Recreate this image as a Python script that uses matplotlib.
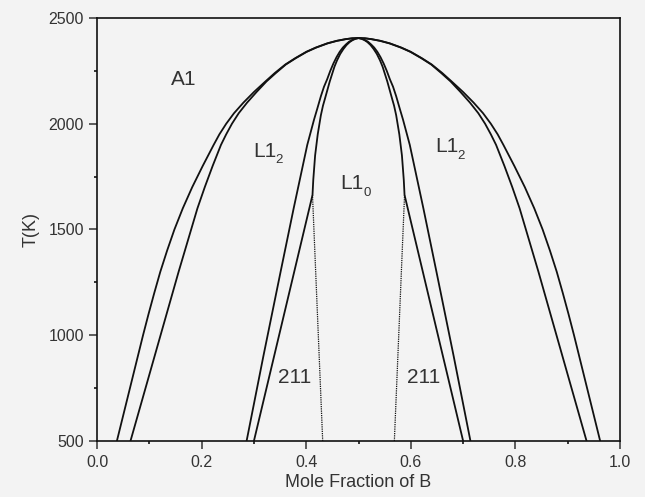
import matplotlib
matplotlib.use('Agg')
import matplotlib.pyplot as plt
from matplotlib.transforms import offset_copy

plt.rcParams['font.family'] = ['Liberation Sans', 'DejaVu Sans']

# phase boundaries: mole fraction of B vs T(K)
# outer A1 / L1_2 pair
outer_t = [500, 600, 700, 800, 900, 1000, 1100, 1200, 1300, 1400, 1500, 1600, 1700, 1800, 1900, 1950,
           2000, 2050, 2100, 2150, 2200, 2240, 2280, 2310, 2340, 2360, 2380, 2392, 2400, 2404, 2405]
a_left_x = [0.038, 0.048, 0.058, 0.068, 0.078, 0.088, 0.0985, 0.1095, 0.121, 0.134, 0.148, 0.164, 0.182, 0.202,
            0.223, 0.234, 0.247, 0.262, 0.280, 0.300, 0.322, 0.340, 0.360, 0.379, 0.400, 0.418, 0.440, 0.458,
            0.475, 0.488, 0.500]
b_left_x = [0.064, 0.0755, 0.087, 0.0985, 0.110, 0.1215, 0.133, 0.1445, 0.156, 0.168, 0.180, 0.192, 0.206, 0.221,
            0.237, 0.247, 0.258, 0.271, 0.287, 0.305, 0.324, 0.342, 0.361, 0.380, 0.401, 0.419, 0.441, 0.459,
            0.476, 0.488, 0.500]
a_right_x = [0.962, 0.952, 0.942, 0.932, 0.922, 0.912, 0.9015, 0.8905, 0.879, 0.866, 0.852, 0.836, 0.818, 0.798,
             0.777, 0.766, 0.753, 0.738, 0.720, 0.700, 0.678, 0.660, 0.640, 0.621, 0.600, 0.582, 0.560, 0.542,
             0.525, 0.512, 0.500]
b_right_x = [0.936, 0.9245, 0.913, 0.9015, 0.890, 0.8785, 0.867, 0.8555, 0.844, 0.832, 0.820, 0.808, 0.794, 0.779,
             0.763, 0.753, 0.742, 0.729, 0.713, 0.695, 0.676, 0.658, 0.639, 0.620, 0.599, 0.581, 0.559, 0.541,
             0.524, 0.512, 0.500]

# inner L1_2 / L1_0 pair
c_t = [500, 900, 1300, 1600, 1750, 1900, 2020, 2070, 2130, 2175, 2210, 2250, 2285, 2315, 2340, 2360, 2375,
       2388, 2396, 2402, 2405]
c_left_x = [0.286, 0.318, 0.351, 0.376, 0.389, 0.402, 0.415, 0.421, 0.428, 0.434, 0.440, 0.446, 0.452, 0.458,
            0.464, 0.470, 0.476, 0.482, 0.488, 0.494, 0.500]
c_right_x = [0.714, 0.682, 0.649, 0.624, 0.611, 0.598, 0.585, 0.579, 0.572, 0.566, 0.560, 0.554, 0.548, 0.542,
             0.536, 0.530, 0.524, 0.518, 0.512, 0.506, 0.500]
d_t = [500, 1663, 1735, 1850, 1950, 2040, 2085, 2120, 2160, 2200, 2235, 2270, 2300, 2330, 2353, 2372, 2386,
       2396, 2402, 2405]
d_left_x = [0.300, 0.412, 0.4135, 0.417, 0.422, 0.428, 0.432, 0.436, 0.4405, 0.445, 0.4495, 0.454, 0.459, 0.465,
            0.471, 0.477, 0.483, 0.489, 0.4945, 0.500]
d_right_x = [0.700, 0.588, 0.5865, 0.583, 0.578, 0.572, 0.568, 0.564, 0.5595, 0.555, 0.5505, 0.546, 0.541, 0.535,
             0.529, 0.523, 0.517, 0.511, 0.5055, 0.500]

# dotted 211 boundaries
e_t = [500, 1663]
e_left_x = [0.4315, 0.412]
e_right_x = [0.5685, 0.588]

bg = '#f3f3f3'
line_col = '#111111'
txt_col = '#333333'

fig = plt.figure(figsize=(6.45, 4.97), dpi=100, facecolor=bg)
ax = fig.add_axes([0.1504, 0.1127, 0.8109, 0.8511], facecolor=bg)

solid = [(a_left_x, outer_t), (b_left_x, outer_t),
         (a_right_x, outer_t), (b_right_x, outer_t),
         (c_left_x, c_t), (d_left_x, d_t),
         (c_right_x, c_t), (d_right_x, d_t)]
for xs, ts in solid:
    ax.plot(xs, ts, color=line_col, lw=1.3, solid_joinstyle='round')

for xs in [e_left_x, e_right_x]:
    ax.plot(xs, e_t, color=line_col, lw=0.9, ls=(0, (1, 0.8)))

ax.set_xlim(0, 1)
ax.set_ylim(500, 2500)
ax.set_xticks([0.0, 0.2, 0.4, 0.6, 0.8, 1.0])
ax.set_xticks([0.1, 0.3, 0.5, 0.7, 0.9], minor=True)
ax.set_yticks([500, 1000, 1500, 2000, 2500])
ax.set_yticks([750, 1250, 1750, 2250], minor=True)
ax.set_xticklabels(['0.0', '0.2', '0.4', '0.6', '0.8', '1.0'])
ax.tick_params(which='major', direction='out', length=6, width=1.1,
               labelsize=11.5, colors=txt_col, pad=3.5)
ax.tick_params(which='minor', direction='out', length=2.5, width=1.1)
ax.tick_params(axis='x', which='major', pad=4)
for s in ax.spines.values():
    s.set_linewidth(1.2)
    s.set_color(line_col)

ax.set_xlabel('Mole Fraction of B', fontsize=13, color=txt_col, labelpad=3)
ax.set_ylabel('T(K)', fontsize=13, color=txt_col, labelpad=6)

# region labels
lab_kw = dict(fontsize=15, color=txt_col, va='baseline', ha='left')
sub_kw = dict(fontsize=9.5, color=txt_col, va='baseline', ha='left')


def phase_label(x, t, main, sub=None, dx=16.5):
    ax.text(x, t, main, **lab_kw)
    if sub is not None:
        tr = offset_copy(ax.transData, fig=fig, x=dx, y=-5, units='points')
        ax.text(x, t, sub, transform=tr, **sub_kw)


phase_label(0.142, 2185, 'A1')
phase_label(0.298, 1845, 'L1', '2')
phase_label(0.465, 1690, 'L1', '0')
phase_label(0.646, 1865, 'L1', '2')
phase_label(0.346, 775, '211')
phase_label(0.592, 775, '211')

fig.savefig('out.png', dpi=100, facecolor=bg)
